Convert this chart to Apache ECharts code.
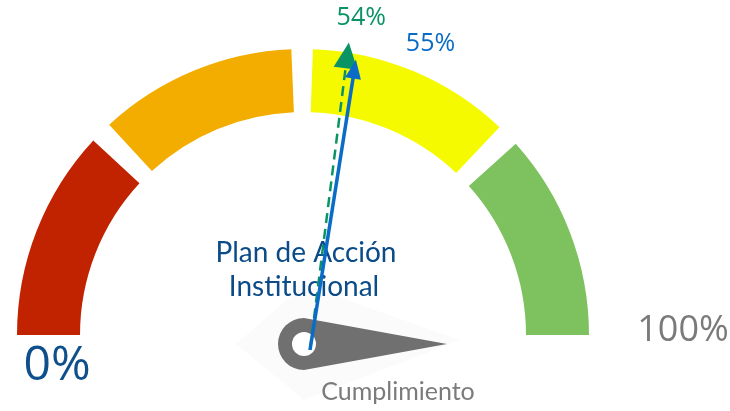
<!doctype html>
<html lang="es">
<head>
    <meta charset="UTF-8">
    <title>Cumplimiento</title>
    <script src="https://cdn.jsdelivr.net/npm/echarts@6/dist/echarts.min.js"></script>
    <style>
        html, body { margin: 0; padding: 0; background: #fff; }
        #main { width: 730px; height: 411px; }
    </style>
</head>
<body>
<div id="main"></div>

<script>
    // bandas del indicador (en % de la escala)
    var bandFrom = [0, 26.3, 51.1, 76.7];
    var bandTo = [23.8, 48.7, 74.1, 100];
    var bandColors = ['#c12300', '#f3ad00', '#f5fa00', '#7dc25e'];

    // valores de las flechas
    var arrowValues = [54, 55];
    var arrowLabels = ['54%', '55%'];

    // aguja gris (apunta al maximo)
    var needleValue = 100;

    var scaleLabels = ['0%', '100%'];
    var titleLines = ['Plan de Acción', 'Institucional'];
    var subTitle = 'Cumplimiento';

    var axisColors = [];
    for (var i = 0; i < bandColors.length; i++) {
        if (i > 0) axisColors.push([bandFrom[i] / 100, 'rgba(0,0,0,0)']);
        axisColors.push([bandTo[i] / 100, bandColors[i]]);
    }

    function arrowSeries(idx, opt) {
        var v = arrowValues[idx];
        return {
            type: 'line',
            coordinateSystem: 'polar',
            z: 10,
            silent: true,
            data: [
                {value: [0, v], symbol: 'none'},
                {
                    value: [opt.r, v],
                    symbol: 'triangle',
                    symbolSize: opt.head,
                    symbolRotate: 90 - v * 1.8,
                    label: {
                        show: true,
                        formatter: arrowLabels[idx],
                        position: 'inside',
                        offset: opt.labelOffset,
                        color: opt.color,
                        fontSize: 25,
                        fontFamily: 'Open Sans'
                    }
                }
            ],
            lineStyle: {color: opt.color, width: opt.width, type: opt.dash},
            itemStyle: {color: opt.color}
        };
    }

    var myChart = echarts.init(document.getElementById('main'));
    myChart.setOption({
        animation: false,
        polar: {center: [310, 350], radius: 300},
        angleAxis: {
            type: 'value', min: 0, max: 100, startAngle: 180, endAngle: 0,
            show: false, splitLine: {show: false}, axisLine: {show: false}, axisLabel: {show: false}, axisTick: {show: false}
        },
        radiusAxis: {
            type: 'value', min: 0, max: 100,
            show: false, splitLine: {show: false}, axisLine: {show: false}, axisLabel: {show: false}, axisTick: {show: false}
        },
        graphic: [
            // sombra tenue detras de la aguja
            {type: 'polygon', z: 0, shape: {points: [[304, 285], [460, 340], [304, 400], [236, 344]]}, style: {fill: '#fbfbfb'}},
            {type: 'text', x: 306, y: 253, z: 1, style: {text: titleLines[0], fill: '#0b4b87', font: '28px Lato', align: 'center', verticalAlign: 'middle'}},
            {type: 'text', x: 304, y: 287, z: 1, style: {text: titleLines[1], fill: '#0b4b87', font: '28px Lato', align: 'center', verticalAlign: 'middle'}},
            {type: 'text', x: 398, y: 392, z: 1, style: {text: subTitle, fill: '#7b7b7b', font: '25px Lato', align: 'center', verticalAlign: 'middle'}},
            {type: 'text', x: 57, y: 366, z: 1, style: {text: scaleLabels[0], fill: '#0e4f8c', font: '48px "Open Sans"', align: 'center', verticalAlign: 'middle'}},
            {type: 'text', x: 683, y: 331, z: 1, style: {text: scaleLabels[1], fill: '#7a7a7a', font: '36px "Open Sans"', align: 'center', verticalAlign: 'middle'}}
        ],
        series: [
            {
                type: 'gauge',
                center: [303, 335],
                radius: 286,
                startAngle: 180,
                endAngle: 0,
                min: 0,
                max: 100,
                axisLine: {lineStyle: {width: 63, color: axisColors}},
                splitLine: {show: false},
                axisTick: {show: false},
                axisLabel: {show: false},
                pointer: {show: false},
                anchor: {show: false},
                title: {show: false},
                detail: {show: false},
                data: [{value: 0}]
            },
            {
                type: 'gauge',
                center: [304, 344],
                radius: 150,
                startAngle: 180,
                endAngle: 0,
                min: 0,
                max: 100,
                z: 3,
                axisLine: {show: false},
                splitLine: {show: false},
                axisTick: {show: false},
                axisLabel: {show: false},
                pointer: {
                    icon: 'path://M26 0L52 143A26 26 0 1 1 0 143Z',
                    length: 169,
                    width: 52,
                    offsetCenter: [0, 26],
                    itemStyle: {color: '#707070'}
                },
                anchor: {show: true, showAbove: true, size: 24, itemStyle: {color: '#fff', borderWidth: 0}},
                title: {show: false},
                detail: {show: false},
                data: [{value: needleValue}]
            },
            arrowSeries(0, {r: 99, head: [24, 26], color: '#0a9466', width: 2.5, dash: [10, 6], labelOffset: [14, -37]}),
            arrowSeries(1, {r: 94.8, head: [16, 19], color: '#0a6cc6', width: 3.5, dash: 'solid', labelOffset: [76, -25]})
        ]
    });
</script>
</body>
</html>
